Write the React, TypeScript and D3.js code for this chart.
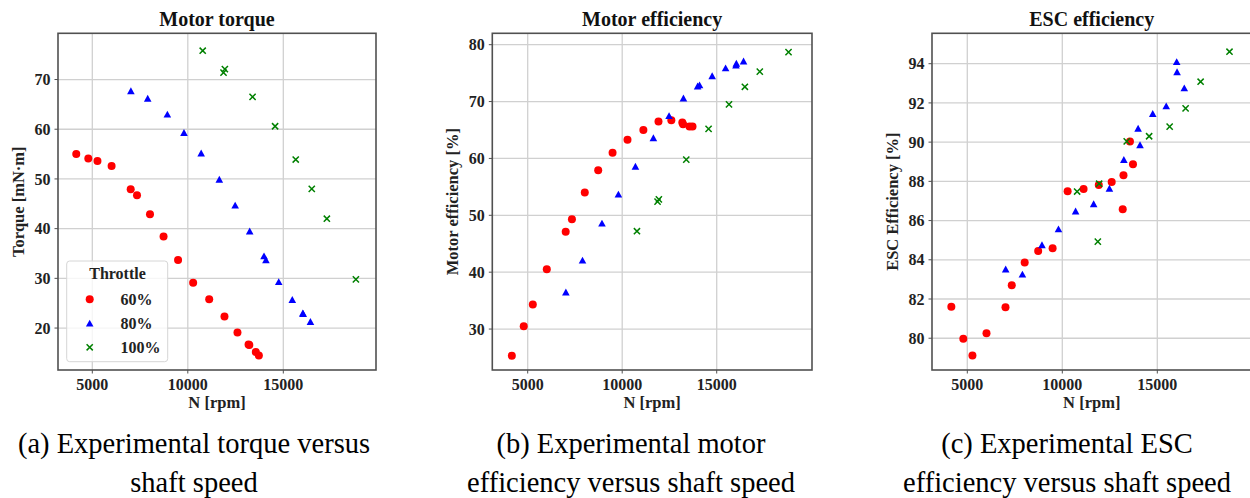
import React from "react";
import * as d3 from "d3";

// ---- data ----
const speed60 = [4160, 4790, 5270, 6010, 7010, 7340, 8020, 8730, 9490, 10280, 11120, 11920, 12600, 13180, 13220, 13560, 13720];
const torque60 = [55.0, 54.1, 53.6, 52.6, 47.9, 46.7, 42.9, 38.4, 33.7, 29.1, 25.8, 22.3, 19.1, 16.7, 16.6, 15.2, 14.5];
const motorEff60 = [25.3, 30.5, 34.3, 40.5, 47.1, 49.3, 54.0, 57.9, 61.0, 63.3, 65.0, 66.5, 66.7, 66.3, 66.0, 65.6, 65.6];
const escEff60 = [81.6, 79.97, 79.12, 80.25, 81.58, 82.7, 83.86, 84.45, 84.59, 87.49, 87.61, 87.82, 87.97, 86.58, 88.31, 90.03, 88.87];

const speed80 = [7020, 7900, 8930, 9800, 10700, 11650, 12480, 13240, 13990, 14090, 14760, 15470, 16020, 16040, 16420];
const torque80 = [67.7, 66.2, 63.0, 59.3, 55.2, 49.9, 44.7, 39.5, 34.5, 33.7, 29.3, 25.7, 23.0, 22.9, 21.3];
const motorEff80 = [36.5, 42.1, 48.6, 53.7, 58.6, 63.6, 67.5, 70.6, 72.7, 72.9, 74.5, 75.9, 76.4, 76.7, 77.1];
const escEff80 = [83.52, 83.26, 84.76, 85.57, 86.48, 86.85, 87.64, 89.11, 90.7, 89.86, 91.45, 91.84, 94.1, 93.58, 92.76];

const speed100 = [10780, 11870, 11940, 13390, 14570, 15650, 16490, 17280, 18800];
const torque100 = [75.8, 71.4, 72.1, 66.5, 60.6, 53.9, 48.0, 42.0, 29.8];
const motorEff100 = [47.2, 52.4, 52.8, 59.8, 65.2, 69.5, 72.6, 75.25, 78.7];
const escEff100 = [87.48, 84.93, 87.88, 90.04, 90.3, 90.79, 91.72, 93.08, 94.61];

const xTicks = [5000, 10000, 15000];
const torqueTicks = [20, 30, 40, 50, 60, 70];
const motorTicks = [30, 40, 50, 60, 70, 80];
const escTicks = [80, 82, 84, 86, 88, 90, 92, 94];

const throttleLabels = ["60%", "80%", "100%"];
const titles = ["Motor torque", "Motor efficiency", "ESC efficiency"];
const yLabels = ["Torque [mN\u00b7m]", "Motor efficiency [%]", "ESC Efficiency [%]"];
const xLabel = "N [rpm]";
const captions = [
  ["(a) Experimental torque versus", "shaft speed"],
  ["(b) Experimental motor", "efficiency versus shaft speed"],
  ["(c) Experimental ESC", "efficiency versus shaft speed"],
];

const COLORS = ["#ff0000", "#0000ff", "#008000"];
const FONT = "'Liberation Serif', 'Times New Roman', serif";

type Panel = {
  left: number;
  right: number;
  xDomain: [number, number];
  yDomain: [number, number];
  yTicks: number[];
  series: { x: number[]; y: number[] }[];
  captionX: number;
};

const TOP = 33.3;
const BOTTOM = 370;

const panels: Panel[] = [
  {
    left: 58, right: 376, xDomain: [3204, 19853], yDomain: [11.56, 79.3], yTicks: torqueTicks,
    series: [{ x: speed60, y: torque60 }, { x: speed80, y: torque80 }, { x: speed100, y: torque100 }],
    captionX: 194,
  },
  {
    left: 492.3, right: 812, xDomain: [3127, 20042], yDomain: [22.8, 82.0], yTicks: motorTicks,
    series: [{ x: speed60, y: motorEff60 }, { x: speed80, y: motorEff80 }, { x: speed100, y: motorEff100 }],
    captionX: 631,
  },
  {
    left: 932, right: 1251.5, xDomain: [3142, 19958], yDomain: [78.38, 95.55], yTicks: escTicks,
    series: [{ x: speed60, y: escEff60 }, { x: speed80, y: escEff80 }, { x: speed100, y: escEff100 }],
    captionX: 1067,
  },
];

function Marker({ kind, cx, cy }: { kind: number; cx: number; cy: number }) {
  if (kind === 0) return <circle cx={cx} cy={cy} r={4} fill={COLORS[0]} />;
  if (kind === 1)
    return (
      <path
        d={`M${cx},${cy - 3.6}L${cx + 3.8},${cy + 3.3}L${cx - 3.8},${cy + 3.3}Z`}
        fill={COLORS[1]}
      />
    );
  const s = 3.1;
  return (
    <path
      d={`M${cx - s},${cy - s}L${cx + s},${cy + s}M${cx - s},${cy + s}L${cx + s},${cy - s}`}
      stroke={COLORS[2]}
      strokeWidth={1.5}
      fill="none"
    />
  );
}

function PanelView({ p, idx }: { p: Panel; idx: number }) {
  const x = d3.scaleLinear().domain(p.xDomain).range([p.left, p.right]);
  const y = d3.scaleLinear().domain(p.yDomain).range([BOTTOM, TOP]);
  const cx = (p.left + p.right) / 2;
  const cy = (TOP + BOTTOM) / 2;
  return (
    <g>
      <defs>
        <clipPath id={`clip${idx}`}>
          <rect x={p.left} y={TOP} width={p.right - p.left} height={BOTTOM - TOP} />
        </clipPath>
      </defs>
      {/* grid */}
      <g stroke="#d0d0d0" strokeWidth={1.3}>
        {xTicks.map((t) => (
          <line key={`gx${t}`} x1={x(t)} x2={x(t)} y1={TOP} y2={BOTTOM} />
        ))}
        {p.yTicks.map((t) => (
          <line key={`gy${t}`} x1={p.left} x2={p.right} y1={y(t)} y2={y(t)} />
        ))}
      </g>
      {/* points */}
      <g clipPath={`url(#clip${idx})`}>
        {p.series.map((s, si) =>
          s.x.map((xv, i) => <Marker key={`${si}-${i}`} kind={si} cx={x(xv)} cy={y(s.y[i])} />)
        )}
      </g>
      {/* spines */}
      <rect
        x={p.left}
        y={TOP}
        width={p.right - p.left}
        height={BOTTOM - TOP}
        fill="none"
        stroke="#505050"
        strokeWidth={1.6}
      />
      {/* ticks */}
      <g stroke="#505050" strokeWidth={1}>
        {xTicks.map((t) => (
          <line key={`tx${t}`} x1={x(t)} x2={x(t)} y1={BOTTOM} y2={BOTTOM + 3.5} />
        ))}
        {p.yTicks.map((t) => (
          <line key={`ty${t}`} x1={p.left - 3.5} x2={p.left} y1={y(t)} y2={y(t)} />
        ))}
      </g>
      <g fontFamily={FONT} fontWeight="bold" fontSize={16} fill="#222">
        {xTicks.map((t) => (
          <text key={`lx${t}`} x={x(t)} y={389.5} textAnchor="middle">
            {t}
          </text>
        ))}
        {p.yTicks.map((t) => (
          <text key={`ly${t}`} x={p.left - 7.5} y={y(t)} dy="0.35em" textAnchor="end">
            {t}
          </text>
        ))}
      </g>
      <text x={cx} y={26} textAnchor="middle" fontFamily={FONT} fontWeight="bold" fontSize={20} fill="#111">
        {titles[idx]}
      </text>
      <text x={cx} y={408.3} textAnchor="middle" fontFamily={FONT} fontWeight="bold" fontSize={16.5} fill="#222">
        {xLabel}
      </text>
      <text
        transform={`translate(${p.left - 34},${cy}) rotate(-90)`}
        textAnchor="middle"
        fontFamily={FONT}
        fontWeight="bold"
        fontSize={16.5}
        fill="#222"
      >
        {yLabels[idx]}
      </text>
      <g fontFamily={FONT} fontSize={28.5} fill="#000" textAnchor="middle">
        <text x={p.captionX} y={453}>{captions[idx][0]}</text>
        <text x={p.captionX} y={492}>{captions[idx][1]}</text>
      </g>
    </g>
  );
}

function Legend() {
  const lx = 66.7;
  const ly = 261;
  const rows = [299.3, 323.3, 347.3];
  return (
    <g>
      <rect x={lx} y={ly} width={101} height={100.7} rx={3} fill="#fff" fillOpacity={0.8} stroke="#d6d6d6" strokeWidth={1} />
      <text x={117.5} y={278.5} textAnchor="middle" fontFamily={FONT} fontWeight="bold" fontSize={16} fill="#222">
        Throttle
      </text>
      {throttleLabels.map((lab, i) => (
        <g key={lab}>
          <Marker kind={i} cx={89.7} cy={rows[i]} />
          <text x={120.5} y={rows[i]} dy="0.35em" fontFamily={FONT} fontWeight="bold" fontSize={16} fill="#222">
            {lab}
          </text>
        </g>
      ))}
    </g>
  );
}

export default function App() {
  return (
    <svg
      width={1250}
      height={498}
      viewBox="0 0 1250 498"
      style={{ position: "absolute", left: 0, top: 0, background: "#fff" }}
    >
      <rect x={0} y={0} width={1250} height={498} fill="#fff" />
      {panels.map((p, i) => (
        <PanelView key={i} p={p} idx={i} />
      ))}
      <Legend />
    </svg>
  );
}
